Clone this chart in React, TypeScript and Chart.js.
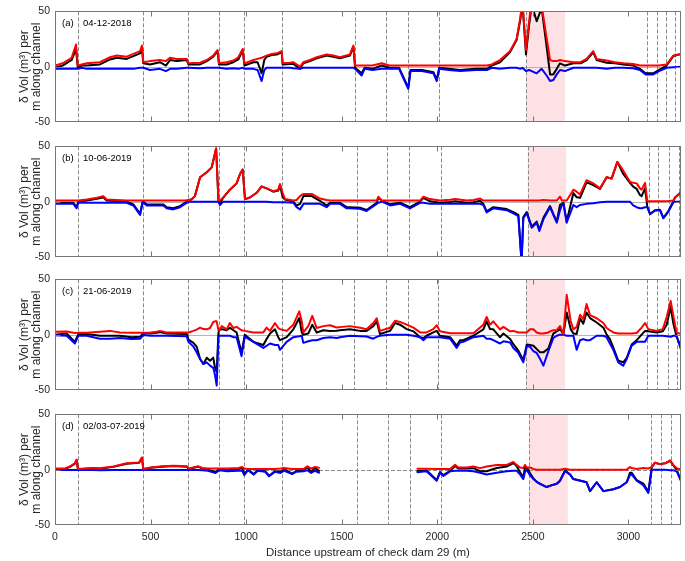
import React, { useEffect, useRef } from 'react';
import { Chart, registerables } from 'chart.js';

Chart.register(...registerables);
Chart.defaults.font.family = '"Liberation Sans", Arial, sans-serif';

// ---------- Panel (a) 04-12-2018 ----------
const xA = [
  0, 40, 87, 110, 119, 140, 166, 235, 288, 323,
  375, 410, 445, 455, 462, 497, 549, 580, 602, 637,
  689, 698, 759, 794, 828, 850, 858, 898, 933, 959,
  982, 991, 1038, 1060, 1081, 1095, 1107, 1134, 1160, 1186,
  1191, 1230, 1247, 1282, 1299, 1334, 1369, 1421, 1456, 1491,
  1543, 1561, 1570, 1604, 1620, 1660, 1709, 1750, 1800, 1848,
  1860, 1920, 1980, 1997, 2010, 2060, 2120, 2200, 2260, 2285,
  2328, 2380, 2415, 2435, 2445, 2464, 2480, 2494, 2520, 2546,
  2572, 2590, 2607, 2625, 2642, 2668, 2712, 2750, 2781, 2816,
  2834, 2886, 2930, 2973, 3025, 3060, 3090, 3130, 3160, 3200,
  3235, 3275,
];
const redA = [
  1, 3, 8, 20, 1, 2, 3, 4, 8.5, 10,
  9, 11.5, 14, 19, 4, 5, 6, 5, 8, 7,
  7, 3, 3.5, 6, 10, 15, 3, 4, 5.5, 8.5,
  16, 3, 6, 7, 8, 9, 10, 11.5, 12, 14,
  3, 3.5, 4, 0, 4, 6, 8.5, 11, 10, 8.5,
  11, 19, 1, 1, 1, 1, 3, 1, 1, 1,
  1, 1, 1, 1, 1, 1, 1, 1, 1, 2,
  6, 14, 25, 45, 60, 15, 40, 60, 60, 55,
  26, 6, 5, 5, 6, 5, 4, 4, 7, 14,
  7, 5.5, 4, 3, 2.5, 1, 1, 1, 1, 2,
  10, 11.5,
];
const blueA = [
  -2, -2, -2, -2, -2, -1, -2, -2, -2, -2,
  -2, -2, -1, -1, -1, -3, -2, -4, -2, -2,
  -1, -1, -1.5, -1, -1, -1, -1, -2, -1.5, -2,
  -1, -2, -2, -3, -13, -3, -1, -1, -1, -1,
  -1, -1, -1.5, -2, -1, -1, -1, -1, -1, -1,
  -1, -1, -2, -8, -2, -3, -2, -2, -2, -20,
  -4, -4, -6, -13, -2, -3, -4, -3, -3, -1,
  -2, -1, -1, -2, -1, -4, -3, -4, -6, -2,
  -8, -13, -12, -7, -3, -4, -1, -1, -1, -1,
  -1, -2, -1, -1, -1.5, -3, -7, -7, -4, -1,
  -0.5, 0,
];
const blackA = [
  -1, 1, 6, 16, -1, 1, 1, 2, 6.5, 8,
  7, 9.5, 12, 17, 3, 2, 4, 1, 6, 5,
  6, 2, 2, 5, 9, 14, 2, 2, 4, 6.5,
  15, 1, 4, 4, -6, 6, 9, 10.5, 11, 13,
  2, 2.5, 2.5, -2, 3, 5, 7.5, 10, 9, 7.5,
  10, 18, -1, -6, -1, -2, 1, -1, -1, -19,
  -3, -3, -5, -12, -1, -2, -3, -2, -2, 1,
  4, 13, 24, 43, 59, 11, 37, 56, 41, 53,
  18, -7, -7, -2, 3, 1, 3, 3, 6, 13,
  6, 3.5, 3, 2, 1, -2, -6, -6, -3, 1,
  9.5, 11.5,
];
const dashA = [119, 462, 697, 857, 990, 1190, 1570, 1730, 1849, 2009, 2465, 3099, 3148, 3197, 3244];
const spanA = [2465, 2669];

// ---------- Panel (b) 10-06-2019 ----------
const xB = [
  0, 96, 113, 122, 166, 220, 253, 270, 375, 410,
  445, 459, 480, 567, 584, 619, 654, 680, 700, 714,
  732, 759, 794, 820, 843, 855, 863, 880, 915, 950,
  968, 982, 994, 1020, 1055, 1081, 1107, 1142, 1168, 1177,
  1191, 1203, 1247, 1264, 1282, 1300, 1343, 1386, 1421, 1439,
  1491, 1526, 1543, 1596, 1630, 1683, 1692, 1710, 1753, 1805,
  1857, 1910, 1927, 1962, 2014, 2067, 2093, 2154, 2189, 2224,
  2241, 2258, 2293, 2363, 2398, 2424, 2441, 2450, 2468, 2494,
  2520, 2534, 2555, 2590, 2607, 2625, 2642, 2652, 2660, 2677,
  2712, 2729, 2747, 2781, 2816, 2851, 2886, 2912, 2942, 2973,
  3008, 3025, 3043, 3060, 3069, 3087, 3099, 3113, 3140, 3165,
  3183, 3209, 3235, 3244, 3275,
];
const redB = [
  1, 1, 1, 1, 2, 3.5, 5, 2, 1, 1,
  1, 1, 1, 1, 1, 1, 1, 1, 1.5, 2,
  5, 22, 26.5, 31, 48, 1, 1, 3.7, 10.8, 16.5,
  25, 29, 2.3, 3.7, 8, 13.7, 12, 9.4, 10.8, 16,
  8, 2.3, 1, 1.5, 5, 7, 7, 2.8, 1.5, 1,
  1, 1, 1, 1, 1, 1, 4.5, 1, 1, 1,
  1, 1, 4.5, 2.3, 1, 1.7, 2.3, 1, 1.5, 2.8,
  1, 1, 1, 1, 1, 1, 1, 1, 1, 1,
  1, 1, 1.5, 1, 1, 1, 4.5, 1, 1, 1,
  10.8, 9, 6.5, 19.4, 16.5, 12, 22, 20.8, 35.9, 28,
  18, 17, 16.5, 12, 10.8, 17, 0.3, 0.3, 0.3, 0.3,
  0.3, 0.5, 1, 3.7, 8.5,
];
const blueB = [
  -2, -2, -6, -1, -1, -1, -1, -1, -1, -3.5,
  -12, -0.5, -3.5, -3.5, -6, -7, -5, -2, 0, 0,
  0, 0, 0, 0, 0, 0, -3, 0, 0, 0,
  0, 0, 0, 0, 0, 0, 0, -0.5, -0.5, -0.5,
  -0.5, -0.5, -1, -5, -7, -2, -2, -2, -5, -2,
  -2, -6, -6, -6.5, -8.5, -2, -1, 0, -3.4, -2,
  -6, -1, -1, -2, -2, -2, -2, -2, -2, -2,
  -3, -9.7, -6, -7.7, -10.5, -13, -55, -15, -10.5, -23.6,
  -19, -26.5, -16, -5, -12, -19, -7.7, -3, -2, -19,
  -3, -5, -3, -2, -1.5, -0.5, 0, 0, 0, 0,
  0, -3.4, -5, -6, -6, -5, -5, -11.4, -8, -7.7,
  -15, -9, -0.5, 0, 0,
];
const blackB = [
  -1, -1, -5, 0, 1, 2.5, 4, 1, 0, -2.5,
  -11, 0.5, -2.5, -2.5, -5, -6, -4, -1, 1.5, 2,
  5, 22, 26.5, 31, 48, 1, -2, 3.7, 10.8, 16.5,
  25, 29, 2.3, 3.7, 8, 13.7, 12, 9, 10, 15,
  4, 2, 0, -3.5, -2, 5, 5, 0.8, -3.5, -1,
  -1, -5, -5, -5.5, -7.5, -1, 3.5, 1, -2.4, -1,
  -5, 0, 3.5, 0.3, -1, -0.3, 0.3, -1, -0.5, 0.8,
  -2, -8.7, -5, -6.7, -9.5, -12, -54, -14, -9.5, -22.6,
  -18, -25.5, -14.5, -4, -11, -18, -3, -2, -1, -18,
  7.8, 4, 3.5, 17.4, 15, 11.5, 22, 20.8, 35.9, 25,
  17, 13.6, 11.5, 6, 5, 12, -4.7, -11.1, -7.7, -7.4,
  -14.7, -8.5, 0.5, 3.7, 8.5,
];
const dashB = [119, 462, 697, 857, 990, 1190, 1579, 1736, 1854, 2018, 2473, 3105, 3157, 3213, 3262];
const spanB = [2473, 2674];

// ---------- Panel (c) 21-06-2019 ----------
const xC = [
  0, 61, 104, 122, 166, 235, 288, 340, 400, 445,
  462, 500, 532, 549, 584, 689, 698, 724, 741, 759,
  776, 794, 811, 828, 837, 846, 855, 860, 872, 898,
  915, 933, 950, 976, 993, 1038, 1090, 1107, 1125, 1151,
  1168, 1177, 1212, 1247, 1278, 1291, 1299, 1325, 1346, 1369,
  1404, 1439, 1473, 1491, 1543, 1596, 1630, 1665, 1683, 1700,
  1753, 1779, 1805, 1840, 1875, 1910, 1927, 1944, 1979, 1997,
  2014, 2067, 2101, 2119, 2136, 2189, 2241, 2258, 2276, 2293,
  2328, 2346, 2381, 2398, 2424, 2450, 2468, 2485, 2503, 2520,
  2538, 2555, 2581, 2590, 2607, 2625, 2642, 2660, 2677, 2698,
  2712, 2729, 2747, 2764, 2781, 2799, 2834, 2869, 2886, 2903,
  2921, 2947, 2973, 2991, 3017, 3043, 3069, 3087, 3104, 3148,
  3180, 3200, 3221, 3235, 3252, 3275,
];
const redC = [
  2.6, 2.8, 1.5, 1.7, 1.7, 2.6, 3.4, 2, 1.7, 1.7,
  1.7, 2, 2.6, 3.4, 2, 2, 2, 3.4, 4.5, 6.3,
  5, 4.8, 6, 11.4, 12, 12, 4, 4, 7.7, 4.8,
  10.5, 6, 7, 4, 3.4, 2, 2, 6.3, 3.4, 10.5,
  6, 5, 3.4, 9, 21, 12, 2, 7.7, 17, 6,
  7.7, 8.5, 6.5, 6.8, 7.7, 6.3, 4.8, 10.5, 14.8, 3.4,
  6.3, 12.5, 11.5, 9, 6.3, 2, 2, 2, 5, 8.5,
  3, 1.2, 1.2, 1.2, 1.2, 1.2, 9, 16, 9, 12,
  4.8, 7, 3, 3.4, 2, 2, 2, 4.8, 4.8, 2,
  1, 1, 2, 3, 4, 4, 7.7, 0.6, 36, 12,
  4.8, 7, 18, 14, 27.6, 17.7, 14.8, 10.5, 6, 4,
  2, 1, 1, 1, 1, 1.5, 6.3, 10.5, 5, 3.4,
  5, 16, 30.5, 17, 2, 0.5,
];
const blueC = [
  -0.5, -1, -8, -1, -1, -3.7, -3.7, -3, -4, -3.7,
  -0.3, -1, -1, -1, -1, -1.5, -6.5, -10.8, -16, -22,
  -26.5, -25, -28, -30, -36.5, -46, -2.3, -1, -1, -1,
  -1, -2.3, -2.3, -19.4, -1.7, -6.5, -12, -10, -8, -9.4,
  -9.4, -13.7, -6.5, -2.3, -1.5, -1, -7.4, -6, -5, -5,
  -3, -2.3, -3, -2.3, -1, -1.5, -1.7, -3.7, -2, -1,
  0, 0, 0, 0, -1, -2.3, -5, -2.3, -2.3, -2.3,
  -2.3, -3.7, -12, -7, -6.5, -2.3, -1, -3.7, -3.7, -5,
  -8, -6, -7, -12, -16.5, -25, -10.8, -10.8, -15, -16.5,
  -22, -28, -15, -10.8, -3, -1, 0, 0, -1, -1,
  -1, -13.7, -5, -4, -5, -5, -1, -1, -2.3, -8,
  -13.7, -25, -28, -22, -10, -6.5, -6.5, -6.5, -1, -1,
  -1, -1.5, -2, -1, -1, -13.7,
];
const blackC = [
  0, 1, -6.5, 0.5, 0.5, -1, -1, -1, -2.3, -2,
  1.4, 1, 1.6, 2.4, 1, 0.5, -4.5, -7.4, -10.8, -22,
  -26.5, -20.8, -23.6, -20.8, -30, -33.6, 1.7, 4, 5, 4,
  6.3, 4, 2, -16.5, 0, -6.5, -9.4, -4, 1, 4.8,
  -2.3, -5, -2.3, 4.8, 15, 2, 0, 1, 9, 2,
  4, 3.4, 3.5, 4, 4.8, 3.4, 3.4, 7.7, 12, 0.6,
  3.4, 10.5, 9, 5, 3, -2.3, -3, -1, 2, 3.4,
  -1, -2.3, -10, -5, -5, -1, 4.8, 12, 5, 4.8,
  -2.3, 1, -4, -8.6, -14.5, -23, -9, -9.4, -10, -13,
  -16, -16, -12.5, -8, 1, 3, 5, 0.6, 20, 5,
  1, 0.6, 14.5, 10, 20, 15, 11, 6.3, 0, -4,
  -11.7, -23.6, -25, -21, -9, -5, 0, 3.4, 3, 2,
  3, 9, 25, 10, -2, -11,
];
const dashC = [119, 462, 697, 857, 990, 1190, 1566, 1730, 1849, 2006, 2465, 3099, 3152, 3206, 3253];
const spanC = [2465, 2669];

// ---------- Panel (d) 02/03-07-2019 ----------
const xD = [
  0, 52, 78, 104, 113, 120, 200, 235, 305, 375,
  440, 455, 462, 500, 560, 620, 690, 700, 750, 770,
  800, 840, 860, 900, 960, 980, 990, 1010, 1040, 1060,
  1100, 1120, 1150, 1180, 1200, 1240, 1260, 1300, 1320, 1340,
  1360, 1385, 1600, 1892, 1944, 1997, 2014, 2032, 2067, 2093,
  2110, 2154, 2189, 2224, 2258, 2311, 2363, 2398, 2415, 2433,
  2450, 2459, 2468, 2485, 2503, 2520, 2538, 2572, 2600, 2625,
  2642, 2668, 2694, 2712, 2750, 2781, 2799, 2834, 2869, 2921,
  2956, 2991, 3008, 3017, 3043, 3078, 3104, 3122, 3139, 3165,
  3192, 3218, 3235, 3252, 3275,
];
const redD = [
  1, 1, 2.8, 5.7, 9, 0.6, 1.5, 1.2, 2.8, 5.7,
  6.5, 11, 0.6, 2, 3, 3.5, 3, 1, 3, 1.5,
  1, 1, 1, 1, 1.5, 2.5, 1, 0.5, 0.5, 0.5,
  0.5, 0.5, 0.5, 1, 1.5, 0.5, 0.5, 0.5, 3, 1,
  2.5, 1.5, null, 0.8, 0.8, 0.6, 0.6, 0.6, 0.6, 4.3,
  2, 2, 2.8, 1.4, 2.8, 4.3, 4.3, 7, 4.3, 2,
  1.4, 4.3, 2, 2, 0.6, 0, 0, 0, 0, 0,
  0, 0.8, 0, 0, 0, 0, 0, 0, 0, 0,
  0, 0, 2.3, 1.5, 0.6, 1.4, 1, 2.3, 6.3, 5,
  5.7, 8.5, 4.3, 1.4, 0,
];
const blueD = [
  -0.3, -0.3, -0.3, -0.3, -0.3, -0.3, -0.3, -0.5, -0.3, -0.3,
  -0.3, -0.3, -0.3, -0.3, -0.3, -0.3, -0.3, -0.3, -0.3, -0.5,
  -1, -3, -0.5, -1.5, -1, -1, -5, -0.5, -4.5, -1,
  -2, -6, -2, -3, -1, -4, -2, -1.5, -0.5, -3,
  -1, -3, null, -2.3, -1.5, -10, -2.8, -5.7, -1.5, -1,
  -1, -1, -1.5, -2.8, -4.3, -2.8, -1.5, -1, -1, -4.3,
  -8.5, -2, 0, -5, -8.5, -11, -12.8, -15.7, -14, -12.8,
  -10, -1.4, -4.3, -8.5, -10, -11.4, -19.4, -11.4, -19.4, -17.7,
  -15.7, -11.4, -5, -4.3, -10, -14, -21, 0, 0, 0,
  0, -0.5, -0.5, -1.4, -10,
];
const blackD = [
  0.5, 0.5, 2.5, 5.4, 8.7, 0.3, 1.2, 0.8, 2.5, 5.4,
  6.2, 10.7, 0.3, 1.7, 2.7, 3.2, 2.7, 0.7, 2.7, 1,
  0, -2, 0.5, -0.5, 0.5, 1.5, -4, 0, -4, -0.5,
  -1.5, -5.5, -1.5, -2, 0.5, -3.5, -1.5, -1, 2.5, -2,
  1.5, -1.5, null, -1.5, -0.7, -9.4, -2.2, -5, -1, 3.3,
  1, 1, 1.3, -1.4, -1.5, 1.5, 2.8, 6, 3.3, -2.3,
  -7, 2.3, 2, -3, -8, -11, -12.8, -15.7, -14, -12.8,
  -10, -0.6, -4.3, -8.5, -10, -11.4, -19.4, -11.4, -19.4, -17.7,
  -15.7, -11.4, -2.7, -2.8, -9.4, -12.6, -20, 2.3, 6.3, 5,
  5.7, 8, 3.8, 0, -10,
];
const dashD = [119, 462, 697, 857, 990, 1190, 1580, 1741, 1858, 2020, 2480, 3119, 3171, 3222, 3270];
const spanD = [2480, 2683];

const X_TICKS = [0, 500, 1000, 1500, 2000, 2500, 3000];
const Y_TICKS = [-50, 0, 50];
const X_MAX = 3275;
const Y_TITLE = ['\u03b4 Vol (m\u00b3) per', 'm along channel'];
const X_TITLE = 'Distance upstream of check dam 29 (m)';

type PanelDef = {
  top: number; height: number; xs: number[]; red: (number | null)[]; blue: (number | null)[]; black: (number | null)[];
  dashes: number[]; span: number[]; tag: string; date: string; bottom: boolean; zeroDashed: boolean;
};

const PANELS: PanelDef[] = [
  { top: 0, height: 135, xs: xA, red: redA, blue: blueA, black: blackA, dashes: dashA, span: spanA, tag: '(a)', date: '04-12-2018', bottom: false, zeroDashed: false },
  { top: 135, height: 135, xs: xB, red: redB, blue: blueB, black: blackB, dashes: dashB, span: spanB, tag: '(b)', date: '10-06-2019', bottom: false, zeroDashed: false },
  { top: 268, height: 135, xs: xC, red: redC, blue: blueC, black: blackC, dashes: dashC, span: spanC, tag: '(c)', date: '21-06-2019', bottom: false, zeroDashed: false },
  { top: 403, height: 158, xs: xD, red: redD, blue: blueD, black: blackD, dashes: dashD, span: spanD, tag: '(d)', date: '02/03-07-2019', bottom: true, zeroDashed: true },
];

function makeDecor(p: PanelDef) {
  return {
    id: 'decor',
    beforeDatasetsDraw(chart: any) {
      const { ctx, chartArea: a, scales } = chart;
      const x = scales.x, y = scales.y;
      ctx.save();
      const x0 = x.getPixelForValue(p.span[0]);
      const x1 = x.getPixelForValue(p.span[1]);
      ctx.fillStyle = 'rgb(253,225,228)';
      ctx.fillRect(x0, a.top, x1 - x0, a.bottom - a.top);
      ctx.lineWidth = 1;
      const y0 = Math.round(y.getPixelForValue(0)) + 0.5;
      ctx.strokeStyle = p.zeroDashed ? '#8a8a8a' : '#b5b5b5';
      ctx.setLineDash(p.zeroDashed ? [4, 2] : []);
      ctx.beginPath();
      ctx.moveTo(a.left, y0);
      ctx.lineTo(a.right, y0);
      ctx.stroke();
      ctx.strokeStyle = '#8a8a8a';
      ctx.setLineDash([4, 2]);
      for (const d of p.dashes) {
        const px = Math.round(x.getPixelForValue(d)) + 0.5;
        ctx.beginPath();
        ctx.moveTo(px, a.top);
        ctx.lineTo(px, a.bottom);
        ctx.stroke();
      }
      ctx.restore();
    },
    afterDatasetsDraw(chart: any) {
      const { ctx, chartArea: a, scales } = chart;
      const x = scales.x, y = scales.y;
      ctx.save();
      ctx.strokeStyle = '#777777';
      ctx.lineWidth = 1;
      ctx.setLineDash([]);
      const L = Math.round(a.left) + 0.5, R = Math.round(a.right) - 0.5;
      const T = Math.round(a.top) + 0.5, B = Math.round(a.bottom) - 0.5;
      ctx.strokeRect(L, T, R - L, B - T);
      ctx.beginPath();
      for (const t of X_TICKS) {
        const px = Math.round(x.getPixelForValue(t)) + 0.5;
        ctx.moveTo(px, B); ctx.lineTo(px, B - 5);
        ctx.moveTo(px, T); ctx.lineTo(px, T + 5);
      }
      const y0 = Math.round(y.getPixelForValue(0)) + 0.5;
      ctx.moveTo(L, y0); ctx.lineTo(L + 5, y0);
      ctx.moveTo(R, y0); ctx.lineTo(R - 5, y0);
      ctx.stroke();
      ctx.fillStyle = '#000000';
      ctx.font = '9.5px "Liberation Sans", Arial, sans-serif';
      ctx.textBaseline = 'middle';
      ctx.textAlign = 'left';
      ctx.fillText(p.tag, a.left + 7, a.top + 12);
      ctx.fillText(p.date, a.left + 28, a.top + 12);
      ctx.restore();
    },
  };
}

function Panel({ p }: { p: PanelDef }) {
  const ref = useRef<HTMLCanvasElement>(null);
  useEffect(() => {
    if (!ref.current) return;
    const mk = (vals: (number | null)[]) => p.xs.map((xv, i) => ({ x: xv, y: vals[i] }));
    const common = { pointRadius: 0, borderWidth: 2, tension: 0, spanGaps: false, borderJoinStyle: 'round' as const, fill: false };
    const axisH = p.height - 122;
    const chart = new Chart(ref.current, {
      type: 'line',
      data: {
        datasets: [
          { label: 'Deposition', data: mk(p.red), borderColor: '#ff0000', order: 0, ...common },
          { label: 'Erosion', data: mk(p.blue), borderColor: '#0000ff', order: 1, ...common },
          { label: 'Net', data: mk(p.black), borderColor: '#000000', order: 2, ...common },
        ],
      },
      options: {
        animation: false,
        responsive: false,
        events: [],
        layout: { padding: { top: 5, right: 4, left: 0, bottom: 0 } },
        plugins: { legend: { display: false }, tooltip: { enabled: false } },
        scales: {
          x: {
            type: 'linear',
            min: 0,
            max: X_MAX,
            grid: { display: false, drawTicks: false },
            border: { display: false },
            afterBuildTicks: (s: any) => { s.ticks = X_TICKS.map((v) => ({ value: v })); },
            ticks: {
              display: p.bottom,
              autoSkip: false,
              padding: 6,
              maxRotation: 0,
              color: '#262626',
              font: { size: 10.5 },
              callback: (v: any) => String(v),
            },
            title: {
              display: p.bottom,
              text: X_TITLE,
              color: '#262626',
              font: { size: 11.5 },
              padding: { top: 0, bottom: 1 },
            },
            afterFit: (s: any) => { s.height = axisH; },
          },
          y: {
            type: 'linear',
            min: -50,
            max: 50,
            grid: { display: false, drawTicks: false },
            border: { display: false },
            afterBuildTicks: (s: any) => { s.ticks = Y_TICKS.map((v) => ({ value: v })); },
            ticks: { padding: 5, color: '#262626', font: { size: 10.5 }, callback: (v: any) => String(v) },
            title: {
              display: true,
              text: Y_TITLE,
              color: '#262626',
              font: { size: 12, lineHeight: '12px' },
              padding: { top: 19, bottom: 0 },
            },
            afterFit: (s: any) => { s.width = 55; },
          },
        },
      },
      plugins: [makeDecor(p)],
    } as any);
    return () => chart.destroy();
  }, [p]);
  return (
    <canvas
      ref={ref}
      width={685}
      height={p.height}
      style={{ position: 'absolute', left: 0, top: p.top, width: 685, height: p.height, display: 'block' }}
    />
  );
}

export default function App() {
  return (
    <div style={{ position: 'absolute', left: 0, top: 0, width: 685, height: 561, background: '#ffffff' }}>
      {PANELS.map((p, i) => <Panel key={i} p={p} />)}
    </div>
  );
}
